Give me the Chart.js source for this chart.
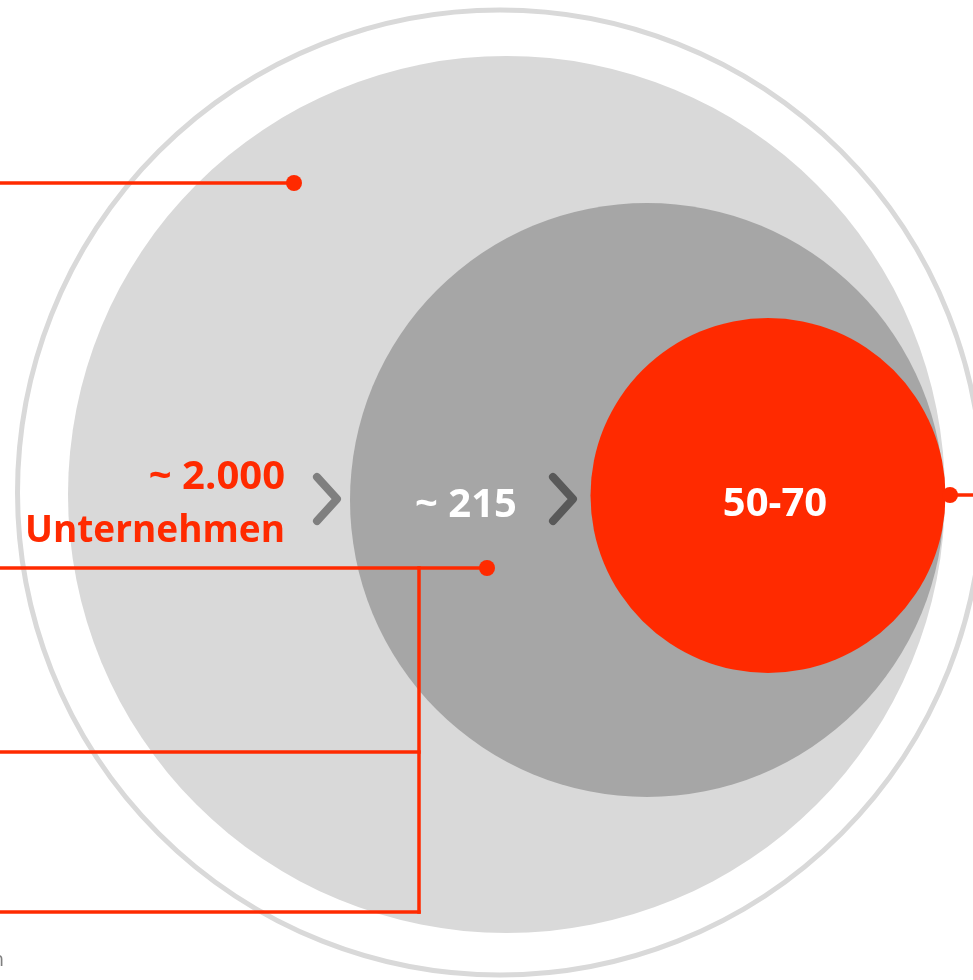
<!DOCTYPE html>
<html>
<head>
<meta charset="utf-8">
<script src="https://cdn.jsdelivr.net/npm/chart.js@4"></script>
<style>
  html, body { margin: 0; padding: 0; background: #ffffff; overflow: hidden; }
  #wrap { width: 973px; height: 980px; position: relative; }
</style>
</head>
<body>
<div id="wrap"><canvas id="funnel"></canvas></div>
<script>
// nested circles: outer ring, market, shortlist, targets
const circleX = [500, 506.5, 647, 768];
const circleY = [492.5, 494.5, 500, 495.5];
const circleR = [482.5, 438.5, 297, 177.5];

// callout connector segments (x/y pairs)
const calloutLines = [
    [[0, 183], [294, 183]],
    [[0, 568], [487, 568]],
    [[419, 568], [419, 912]],
    [[0, 752], [419, 752]],
    [[0, 912], [419, 912]],
    [[950, 495], [973, 495]]
];
const calloutDots = [[294, 183], [487, 568], [950, 495]];

// chevrons between stages
const chevrons = [
    [[317, 477], [337, 499], [317, 521]],
    [[553, 477], [573, 499], [553, 521]]
];

const labelText = ['~ 2.000', 'Unternehmen', '~ 215', '50-70', 'n'];
const labelX = [285, 285, 466, 775, 4];
const labelY = [489, 542, 517, 516, 966];

const RED = '#ff2a00';

const ds = [];
const circleColors = ['rgba(0,0,0,0)', '#d9d9d9', '#a6a6a6', RED];
circleX.forEach((x, i) => {
    ds.push({
        type: 'bubble',
        data: [{ x, y: circleY[i], r: circleR[i] }],
        backgroundColor: circleColors[i],
        borderColor: i === 0 ? '#d9d9d9' : circleColors[i],
        borderWidth: i === 0 ? 5 : 0,
        hoverRadius: 0,
        order: 40 - i,
        clip: false
    });
});
calloutLines.forEach(seg => {
    ds.push({
        type: 'line',
        data: seg.map(p => ({ x: p[0], y: p[1] })),
        borderColor: RED, borderWidth: 3.5, pointRadius: 0, tension: 0, fill: false,
        borderCapStyle: 'square', order: 10, clip: false
    });
});
ds.push({
    type: 'bubble',
    data: calloutDots.map(p => ({ x: p[0], y: p[1], r: 8 })),
    backgroundColor: RED, borderWidth: 0, hoverRadius: 0, order: 5, clip: false
});
const chevronColors = ['#7f7f7f', '#595959'];
chevrons.forEach((c, i) => {
    ds.push({
        type: 'line',
        data: c.map(p => ({ x: p[0], y: p[1] })),
        borderColor: chevronColors[i], borderWidth: 8, pointRadius: 0, tension: 0, fill: false,
        borderCapStyle: 'round', borderJoinStyle: 'round', order: 6, clip: false
    });
});

const labelStyles = [
    { font: 'bold 40px "Open Sans"', color: RED, align: 'right' },
    { font: 'bold 37px "Open Sans"', color: RED, align: 'right' },
    { font: 'bold 40px "Open Sans"', color: '#ffffff', align: 'center' },
    { font: 'bold 40px "Open Sans"', color: '#ffffff', align: 'center' },
    { font: '20px "Open Sans"', color: '#7f7f7f', align: 'right' }
];

const labelPlugin = {
    id: 'labels',
    afterDatasetsDraw(chart) {
        const { ctx, scales: { x, y } } = chart;
        ctx.save();
        ctx.textBaseline = 'alphabetic';
        labelText.forEach((t, i) => {
            const st = labelStyles[i];
            ctx.font = st.font;
            ctx.fillStyle = st.color;
            ctx.textAlign = st.align;
            ctx.fillText(t, x.getPixelForValue(labelX[i]), y.getPixelForValue(labelY[i]));
        });
        ctx.restore();
    }
};

new Chart(document.getElementById('funnel'), {
    type: 'bubble',
    data: { datasets: ds },
    options: {
        responsive: true,
        maintainAspectRatio: false,
        animation: false,
        events: [],
        layout: { padding: 0, autoPadding: false },
        plugins: { legend: { display: false }, tooltip: { enabled: false } },
        scales: {
            x: { type: 'linear', position: 'bottom', min: 0, max: 973, display: false },
            y: { type: 'linear', position: 'left', min: 0, max: 980, reverse: true, display: false }
        }
    },
    plugins: [labelPlugin]
});
</script>
</body>
</html>
